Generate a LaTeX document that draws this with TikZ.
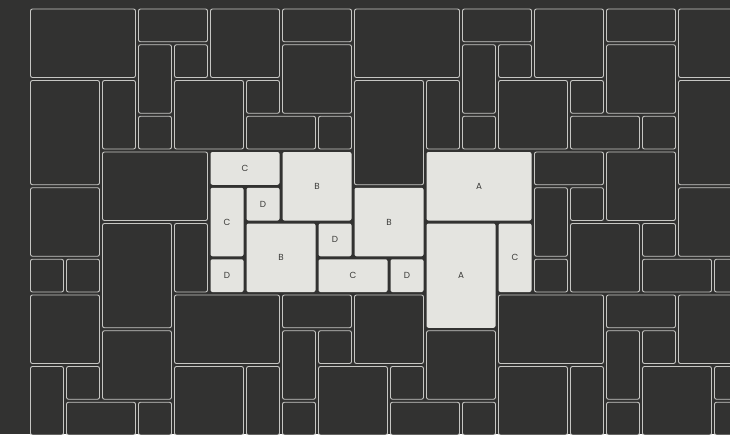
\documentclass[tikz,border=0pt]{standalone}
\usepackage{fontspec}
\setmainfont{Poppins}
\definecolor{bg}{HTML}{323231}
\definecolor{edge}{HTML}{C6C6C3}
\definecolor{lit}{HTML}{E4E4E0}
\definecolor{ink}{HTML}{3A3A38}
\begin{document}
\begin{tikzpicture}[x=1pt,y=-1pt,
  cell/.style={draw=edge, line width=0.9pt, rounded corners=2pt, fill=bg},
  hot/.style={fill=lit, rounded corners=2pt, inner sep=0pt, text=ink, font=\fontsize{8.8}{9}\selectfont}]
\useasboundingbox (0,0) rectangle (730,434);
\fill[bg] (0,0) rectangle (730,434);
\begin{scope}
\clip (0,0) rectangle (730,434);
\def\ux{36}\def\uy{35.75}\def\ox{30}\def\oy{8.5}
\foreach \i/\j/\w/\h in {
 0/0/3/2, 3/0/2/1, 3/1/1/2, 4/1/1/1, 5/0/2/2, 7/0/2/1, 7/1/2/2, 9/0/3/2, 12/0/2/1, 12/1/1/2, 13/1/1/1, 14/0/2/2, 16/0/2/1, 16/1/2/2, 18/0/2/2,
 0/2/2/3, 2/2/1/2, 3/3/1/1, 4/2/2/2, 6/2/1/1, 6/3/2/1, 8/3/1/1, 9/2/2/3, 11/2/1/2, 12/3/1/1, 13/2/2/2, 15/2/1/1, 15/3/2/1, 17/3/1/1, 18/2/2/3,
 2/4/3/2, 0/5/2/2, 0/7/1/1, 1/7/1/1, 2/6/2/3, 4/6/1/2,
 14/4/2/1, 16/4/2/2, 14/5/1/2, 15/5/1/1, 18/5/2/2, 15/6/2/2, 17/6/1/1, 14/7/1/1, 17/7/2/1, 19/7/1/1,
 0/8/2/2, 4/8/3/2, 7/8/2/1, 9/8/2/2, 13/8/3/2, 16/8/2/1, 18/8/2/2,
 2/9/2/2, 7/9/1/2, 8/9/1/1, 11/9/2/2, 16/9/1/2, 17/9/1/1,
 0/10/1/2, 1/10/1/1, 4/10/2/2, 6/10/1/2, 8/10/2/2, 10/10/1/1, 13/10/2/2, 15/10/1/2, 17/10/2/2, 19/10/1/1,
 1/11/2/1, 3/11/1/1, 7/11/1/1, 10/11/2/1, 12/11/1/1, 16/11/1/1, 19/11/1/1}
{
 \draw[cell] ({\ox+\ux*\i+0.5},{\oy+\uy*\j+0.5}) rectangle ({\ox+\ux*(\i+\w)-2.5},{\oy+\uy*(\j+\h)-2.5});
}
\foreach \i/\j/\w/\h/\t in {
 5/4/2/1/C, 5/5/1/2/C, 5/7/1/1/D, 6/5/1/1/D, 7/4/2/2/B, 6/6/2/2/B, 8/6/1/1/D,
 9/5/2/2/B, 8/7/2/1/C, 10/7/1/1/D, 11/4/3/2/A, 11/6/2/3/A, 13/6/1/2/C}
{
 \node[hot, minimum width={\ux*\w-3}, minimum height={\uy*\h-3}] (t\i-\j)
   at ({\ox+\ux*\i+\ux*\w/2-1},{\oy+\uy*\j+\uy*\h/2-1}) {\t};
}
\end{scope}
\end{tikzpicture}
\end{document}
